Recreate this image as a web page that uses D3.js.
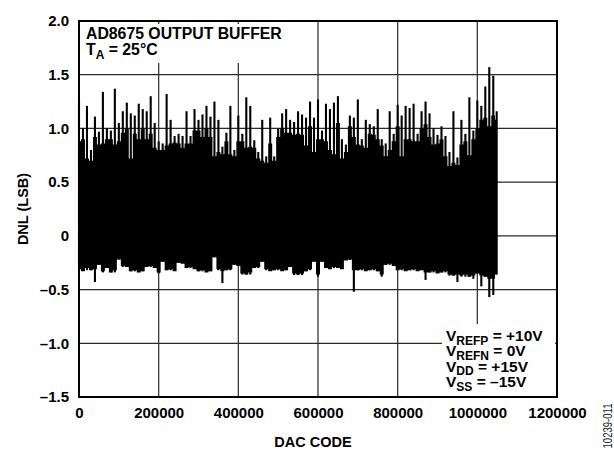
<!DOCTYPE html>
<html>
<head>
<meta charset="utf-8">
<script src="https://cdn.jsdelivr.net/npm/d3@7"></script>
<style>
body { margin: 0; background: #fff; }
svg { display: block; font-family: "Liberation Sans", Arial, sans-serif; font-weight: bold; }
</style>
</head>
<body>
<svg width="614" height="451"></svg>
<script>
// DNL of a 20-bit DAC, sampled every 10000 codes (last sample at full scale)
var codeStep = 10000;
var lastCode = 1048575;

// extreme values per sample (spikes)
var dnlMax = [1.27, 1.0, 1.21, 0.8, 1.11, 0.97, 1.34, 1.0, 0.98, 1.37,
    1.05, 1.16, 1.24, 1.14, 1.12, 1.23, 1.18, 1.16, 1.3, 1.05,
    0.88, 0.86, 1.32, 1.08, 0.93, 0.95, 0.93, 1.16, 0.93, 1.18,
    1.08, 1.13, 1.21, 1.11, 1.25, 1.08, 0.83, 0.96, 1.21, 0.8,
    1.12, 0.95, 1.29, 1.21, 0.89, 0.78, 1.08, 0.74, 1.1, 0.74,
    1.0, 1.14, 1.18, 1.08, 1.06, 1.16, 1.13, 1.1, 1.25, 1.1,
    1.27, 0.98, 1.23, 1.18, 1.24, 1.3, 0.9, 0.85, 1.12, 1.1,
    1.27, 0.9, 1.08, 1.04, 1.02, 1.18, 0.9, 0.86, 1.16, 0.95,
    1.22, 1.12, 1.21, 1.19, 1.23, 0.95, 1.16, 1.25, 1.14, 1.0,
    0.94, 1.02, 0.93, 0.78, 1.16, 0.73, 1.08, 0.95, 1.29, 0.98,
    1.26, 1.21, 1.39, 1.57, 1.49, 1.16];
var dnlMin = [-0.32, -0.32, -0.32, -0.32, -0.43, -0.27, -0.34, -0.3, -0.34, -0.34,
    -0.22, -0.29, -0.29, -0.33, -0.33, -0.33, -0.33, -0.29, -0.29, -0.29,
    -0.35, -0.24, -0.32, -0.32, -0.32, -0.25, -0.25, -0.3, -0.3, -0.3,
    -0.33, -0.33, -0.33, -0.33, -0.2, -0.32, -0.44, -0.32, -0.32, -0.27,
    -0.27, -0.36, -0.36, -0.36, -0.3, -0.3, -0.24, -0.32, -0.32, -0.32,
    -0.32, -0.32, -0.32, -0.29, -0.365, -0.365, -0.365, -0.33, -0.32, -0.24,
    -0.38, -0.24, -0.3, -0.3, -0.3, -0.3, -0.3, -0.225, -0.225, -0.52,
    -0.32, -0.32, -0.32, -0.32, -0.32, -0.33, -0.38, -0.27, -0.27, -0.27,
    -0.32, -0.32, -0.32, -0.32, -0.32, -0.32, -0.32, -0.41, -0.34, -0.34,
    -0.34, -0.34, -0.34, -0.37, -0.37, -0.43, -0.38, -0.38, -0.38, -0.4,
    -0.35, -0.47, -0.38, -0.57, -0.55, -0.36];

// edges of the solid part of the band
var bandTop = [0.88, 0.9, 0.72, 0.7, 0.92, 0.85, 0.86, 0.9, 0.9, 0.85,
    0.88, 0.96, 1.0, 0.72, 0.95, 0.9, 1.0, 0.9, 0.95, 0.82,
    0.8, 0.8, 0.84, 0.86, 0.87, 0.86, 0.82, 0.86, 0.86, 0.98,
    0.98, 0.92, 1.0, 0.92, 0.74, 0.78, 0.76, 0.88, 0.76, 0.74,
    0.88, 0.88, 0.82, 0.83, 0.82, 0.72, 0.7, 0.68, 0.86, 0.7,
    0.92, 1.0, 0.96, 0.96, 0.94, 0.95, 0.94, 0.84, 1.02, 0.78,
    0.9, 0.9, 0.88, 0.8, 0.76, 1.05, 0.72, 0.78, 1.02, 0.92,
    0.85, 0.84, 0.82, 0.95, 0.94, 0.9, 0.84, 0.74, 0.8, 0.88,
    1.02, 0.74, 0.9, 0.9, 0.88, 0.88, 1.0, 1.04, 0.92, 0.85,
    0.86, 0.9, 0.74, 0.65, 0.68, 0.66, 0.85, 0.88, 0.75, 0.9,
    1.0, 1.08, 1.1, 1.02, 1.12, 1.08];
var bandBottom = [-0.31, -0.33, -0.3, -0.32, -0.31, -0.27, -0.33, -0.3, -0.34, -0.32,
    -0.22, -0.28, -0.29, -0.33, -0.32, -0.34, -0.33, -0.29, -0.28, -0.3,
    -0.34, -0.24, -0.32, -0.31, -0.33, -0.25, -0.26, -0.3, -0.29, -0.31,
    -0.33, -0.32, -0.34, -0.33, -0.2, -0.31, -0.33, -0.32, -0.31, -0.27,
    -0.28, -0.35, -0.36, -0.34, -0.3, -0.29, -0.24, -0.31, -0.33, -0.32,
    -0.31, -0.33, -0.32, -0.29, -0.35, -0.36, -0.35, -0.33, -0.31, -0.24,
    -0.36, -0.24, -0.3, -0.31, -0.29, -0.3, -0.31, -0.23, -0.22, -0.32,
    -0.32, -0.31, -0.33, -0.32, -0.31, -0.33, -0.36, -0.27, -0.26, -0.28,
    -0.32, -0.31, -0.33, -0.32, -0.31, -0.33, -0.32, -0.34, -0.34, -0.33,
    -0.35, -0.34, -0.33, -0.36, -0.37, -0.36, -0.37, -0.36, -0.38, -0.37,
    -0.35, -0.37, -0.38, -0.4, -0.4, -0.36];

var xTicks = [0, 200000, 400000, 600000, 800000, 1000000, 1200000];
var yTicks = [-1.5, -1.0, -0.5, 0, 0.5, 1.0, 1.5, 2.0];
var yTickLabels = ["\u20131.5", "\u20131.0", "\u20130.5", "0", "0.5", "1.0", "1.5", "2.0"];

var titleLine = "AD8675 OUTPUT BUFFER";
var legendLines = [
    ["V", "REFP", " = +10V"],
    ["V", "REFN", " = 0V"],
    ["V", "DD", " = +15V"],
    ["V", "SS", " = \u201315V"]
];

var codes = dnlMax.map(function(d, i) {
    return Math.min(i * codeStep, lastCode);
});

var plotLeft = 79, plotRight = 557, plotTop = 21, plotBottom = 397;

var xScale = d3.scaleLinear([0, 1200000], [plotLeft, plotRight]);
var yScale = d3.scaleLinear([-1.5, 2.0], [plotBottom, plotTop]);

var svg = d3.select("svg");

svg.append("rect")
    .attr("width", 614)
    .attr("height", 451)
    .attr("fill", "#fff");

// Grid
svg.append("g")
    .selectAll("line")
    .data(xTicks.slice(1, -1))
    .enter()
        .append("line")
        .attr("x1", function(d) { return xScale(d); })
        .attr("x2", function(d) { return xScale(d); })
        .attr("y1", plotTop)
        .attr("y2", plotBottom)
        .attr("stroke", "#3a3a3a")
        .attr("stroke-width", 1.3);

svg.append("g")
    .selectAll("line")
    .data(yTicks.slice(1, -1))
    .enter()
        .append("line")
        .attr("x1", plotLeft)
        .attr("x2", plotRight)
        .attr("y1", function(d) { return yScale(d); })
        .attr("y2", function(d) { return yScale(d); })
        .attr("stroke", "#2a2a2a")
        .attr("stroke-width", 1.3);

// DNL band
var band = d3.area()
    .x(function(d, i) { return xScale(codes[i]); })
    .y0(function(d, i) { return yScale(bandBottom[i]); })
    .y1(function(d, i) { return yScale(bandTop[i]); })
    .curve(d3.curveStep);

svg.append("path")
    .attr("d", band(codes))
    .attr("fill", "#000");

svg.append("g")
    .selectAll("line")
    .data(codes)
    .enter()
        .append("line")
        .attr("x1", function(d) { return xScale(d); })
        .attr("x2", function(d) { return xScale(d); })
        .attr("y1", function(d, i) { return yScale(dnlMin[i]); })
        .attr("y2", function(d, i) { return yScale(dnlMax[i]); })
        .attr("stroke", "#000")
        .attr("stroke-width", 2.1);

// Title
svg.append("rect")
    .attr("x", 81).attr("y", 24).attr("width", 207).attr("height", 39)
    .attr("fill", "#fff");

svg.append("text")
    .attr("x", 86)
    .attr("y", 39)
    .attr("font-size", 15.8)
    .text(titleLine);

var tLine = svg.append("text")
    .attr("x", 86)
    .attr("y", 55)
    .attr("font-size", 15.8);
tLine.append("tspan").text("T");
tLine.append("tspan").attr("font-size", 12).attr("dy", 4).text("A");
tLine.append("tspan").attr("dy", -4).text(" = 25\u00b0C");

// Legend
svg.append("rect")
    .attr("x", 442).attr("y", 324).attr("width", 113).attr("height", 72)
    .attr("fill", "#fff");

svg.append("g")
    .selectAll("text")
    .data(legendLines)
    .enter()
        .append("text")
        .attr("x", 446)
        .attr("y", function(d, i) { return 341 + i * 15.4; })
        .attr("font-size", 15.5)
        .each(function(d) {
            var t = d3.select(this);
            t.append("tspan").text(d[0]);
            t.append("tspan").attr("font-size", 12).attr("dy", 3.5).text(d[1]);
            t.append("tspan").attr("dy", -3.5).text(d[2]);
        });

// Y Axis
var yAxis = d3.axisLeft(yScale)
    .tickValues(yTicks)
    .tickSize(0)
    .tickPadding(10)
    .tickFormat(function(d, i) { return yTickLabels[i]; });

svg.append("g")
    .attr("transform", "translate(" + plotLeft + ",0)")
    .call(yAxis)
    .call(function(g) { g.select(".domain").remove(); })
    .attr("font-size", 15)
    .attr("font-family", null)
    .selectAll("text").attr("fill", "#000");

svg.append("text")
    .attr("transform", "translate(28," + (plotTop + plotBottom) / 2 + ") rotate(-90)")
    .attr("text-anchor", "middle")
    .attr("font-size", 14.5)
    .text("DNL (LSB)");

// X Axis
var xAxis = d3.axisBottom(xScale)
    .tickValues(xTicks)
    .tickSize(0)
    .tickPadding(10)
    .tickFormat(d3.format("d"));

svg.append("g")
    .attr("transform", "translate(0," + plotBottom + ")")
    .call(xAxis)
    .call(function(g) { g.select(".domain").remove(); })
    .attr("font-size", 15)
    .attr("font-family", null)
    .selectAll("text").attr("fill", "#000");

svg.append("text")
    .attr("x", 313)
    .attr("y", 447)
    .attr("text-anchor", "middle")
    .attr("font-size", 14.5)
    .text("DAC CODE");

// Frame
svg.append("rect")
    .attr("x", plotLeft).attr("y", plotTop)
    .attr("width", plotRight - plotLeft).attr("height", plotBottom - plotTop)
    .attr("fill", "none")
    .attr("stroke", "#000")
    .attr("stroke-width", 2);

svg.append("text")
    .attr("transform", "translate(612,426) rotate(-90)")
    .attr("text-anchor", "middle")
    .attr("font-size", 12)
    .attr("font-weight", "normal")
    .attr("fill", "#222")
    .attr("textLength", 45)
    .attr("lengthAdjust", "spacingAndGlyphs")
    .text("10239-011");
</script>
</body>
</html>
